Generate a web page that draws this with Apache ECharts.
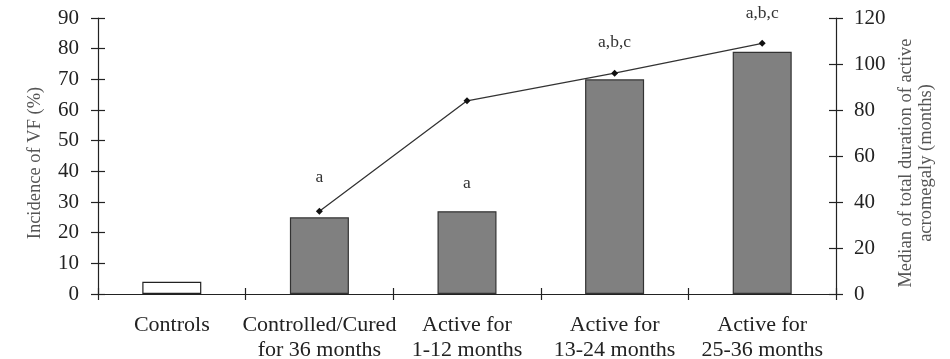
<!DOCTYPE html>
<html><head><meta charset="utf-8">
<script src="https://cdn.jsdelivr.net/npm/echarts@6/dist/echarts.min.js"></script>
<style>html,body{margin:0;padding:0;background:#fff}#c{width:950px;height:359px}</style>
</head><body><div id="c"></div>
<script>
const categories = ['Controls', 'Controlled/Cured\nfor 36 months', 'Active for\n1-12 months', 'Active for\n13-24 months', 'Active for\n25-36 months'];
const incidenceVF = [4, 25, 27, 70, 79];
const medianDuration = [null, 36, 84, 96, 109];
const sigLabels = ['', 'a', 'a', 'a,b,c', 'a,b,c'];
const leftTicks = {min: 0, max: 90, interval: 10};
const rightTicks = {min: 0, max: 120, interval: 20};

const font = 'Liberation Serif';
const labelGap = [0, 31, 19, 28, 29];
const chart = echarts.init(document.getElementById('c'));
const barData = incidenceVF.map((v, i) => ({
  value: v,
  itemStyle: i === 0 ? {color: '#ffffff', borderColor: '#222', borderWidth: 1.2} : {color: '#808080', borderColor: '#333', borderWidth: 1.2},
  label: {distance: labelGap[i]}
}));
const yBase = (t, pos, margin) => ({
  type: 'value', position: pos, min: t.min, max: t.max, interval: t.interval,
  splitLine: {show: false},
  axisLine: {show: true, lineStyle: {color: '#222', width: 1.2}},
  axisTick: {show: true, length: 7, lineStyle: {color: '#222', width: 1.2}},
  axisLabel: {color: '#222', fontFamily: font, fontSize: 21, margin: margin}
});
const innerTicks = {axisLine: {show: false}, axisLabel: {show: false}, axisTick: {show: true, inside: true, length: 7, lineStyle: {color: '#222', width: 1.2}}};
chart.setOption({
  animation: false,
  grid: {left: 98, right: 114, top: 18, bottom: 65, outerBoundsMode: 'none', containLabel: false},
  xAxis: [{
    type: 'category', data: categories,
    axisLine: {lineStyle: {color: '#222', width: 1.2}},
    axisTick: {show: true, length: 6, lineStyle: {color: '#222', width: 1.2}},
    axisLabel: {color: '#222', fontFamily: font, fontSize: 22, lineHeight: 25, margin: 19, interval: 0}
  }, {
    type: 'category', data: categories, position: 'bottom',
    axisLine: {show: false},
    axisTick: {show: true, inside: true, length: 6, lineStyle: {color: '#222', width: 1.2}},
    axisLabel: {show: false}
  }],
  yAxis: [
    Object.assign(yBase(leftTicks, 'left', 19), {
      name: 'Incidence of VF (%)', nameLocation: 'middle', nameGap: 53, nameRotate: 90,
      nameTextStyle: {color: '#555', fontFamily: font, fontSize: 18.5, padding: [0, 14, 0, 0]}
    }),
    Object.assign(yBase(rightTicks, 'right', 18), {
      name: 'Median of total duration of active\nacromegaly (months)', nameLocation: 'middle', nameGap: 59, nameRotate: 90,
      nameTextStyle: {color: '#555', fontFamily: font, fontSize: 18.5, lineHeight: 20, padding: [0, 14, 0, 0]}
    }),
    Object.assign(yBase(leftTicks, 'left', 19), innerTicks),
    Object.assign(yBase(rightTicks, 'right', 18), innerTicks)
  ],
  series: [{
    type: 'bar', xAxisIndex: 0, yAxisIndex: 0, data: barData, barWidth: 59,
    label: {show: true, position: 'top', formatter: p => sigLabels[p.dataIndex], color: '#333', fontFamily: font, fontSize: 17.5}
  }, {
    type: 'line', xAxisIndex: 0, yAxisIndex: 1, data: medianDuration,
    symbol: 'diamond', symbolSize: 7, connectNulls: false,
    lineStyle: {color: '#333', width: 1.3}, itemStyle: {color: '#111'}
  }]
});
</script></body></html>
